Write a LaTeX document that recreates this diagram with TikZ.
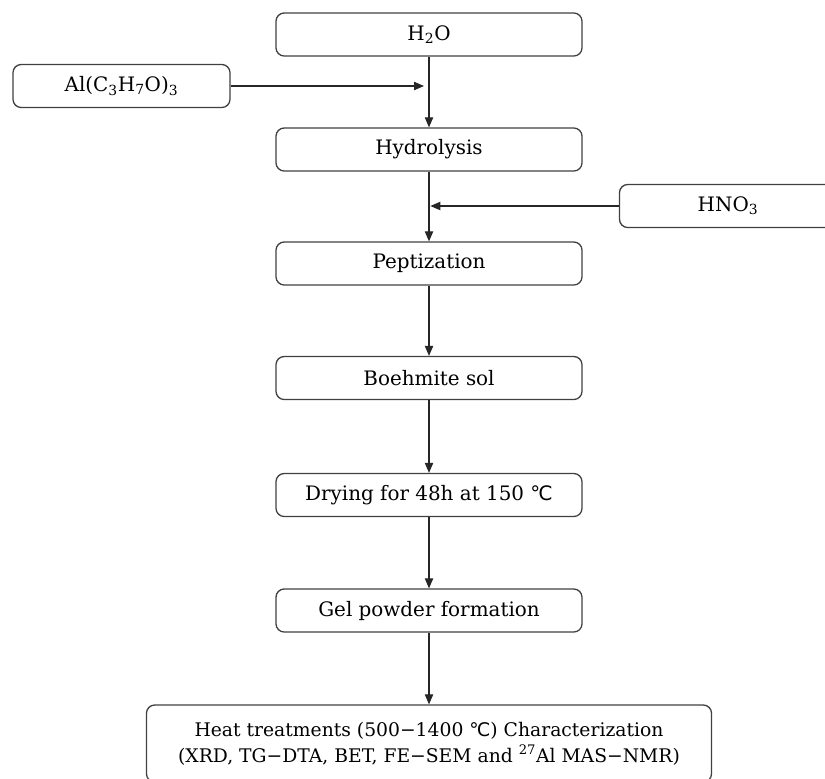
\documentclass[tikz,border=0pt]{standalone}
\usepackage{fontspec}
\setmainfont{DejaVu Serif}
\newfontfamily\degfont{DejaVu Sans}
\usetikzlibrary{arrows.meta}
\newcommand{\degC}{{\degfont ℃}}
\tikzset{
  stage/.style={draw=black!75, line width=1.1pt, rounded corners=7pt,
    minimum width=9.18cm, minimum height=1.29cm, inner sep=0pt,
    font=\fontsize{17}{22}\selectfont},
  feed/.style={stage, minimum width=6.51cm},
  flow/.style={-{Triangle[length=3mm,width=2.5mm]}, line width=0.9pt, draw=black!85},
}
\begin{document}
\begin{tikzpicture}[x=0.03cm, y=-0.03cm]

\clip (0,0) rectangle (825,778);

% main line
\node[stage] (h2o) at (429,34.5) {H\textsubscript{2}O};
\node[stage] (hyd) at (429,149.5) {Hydrolysis};
\node[stage] (pep) at (429,263.5) {Peptization};
\node[stage] (sol) at (429,378) {Boehmite sol};
\node[stage] (dry) at (429,495) {Drying for 48h at 150 \degC};
\node[stage] (gel) at (429,610.5) {Gel powder formation};
\node[stage, minimum width=16.95cm, minimum height=2.31cm, align=center,
  font=\fontsize{16}{22}\selectfont] (heat) at (429,743.5)
{Heat treatments (500−1400 \degC) Characterization\\(XRD, TG−DTA, BET, FE−SEM and \textsuperscript{27}Al MAS−NMR)};

% side feeds
\node[feed] (alk) at (121.5,86) {Al(C\textsubscript{3}H\textsubscript{7}O)\textsubscript{3}};
\node[feed] (hno) at (728,206) {HNO\textsubscript{3}};

\draw[flow] (h2o) -- (hyd);
\draw[flow, shorten >=1.5mm] (alk) -- (alk -| h2o.south);
\draw[flow, shorten >=0.4mm] (hno) -- (hno -| hyd.south);
\draw[flow] (hyd) -- (pep);
\draw[flow] (pep) -- (sol);
\draw[flow] (sol) -- (dry);
\draw[flow] (dry) -- (gel);
\draw[flow] (gel) -- (heat);

\end{tikzpicture}
\end{document}
